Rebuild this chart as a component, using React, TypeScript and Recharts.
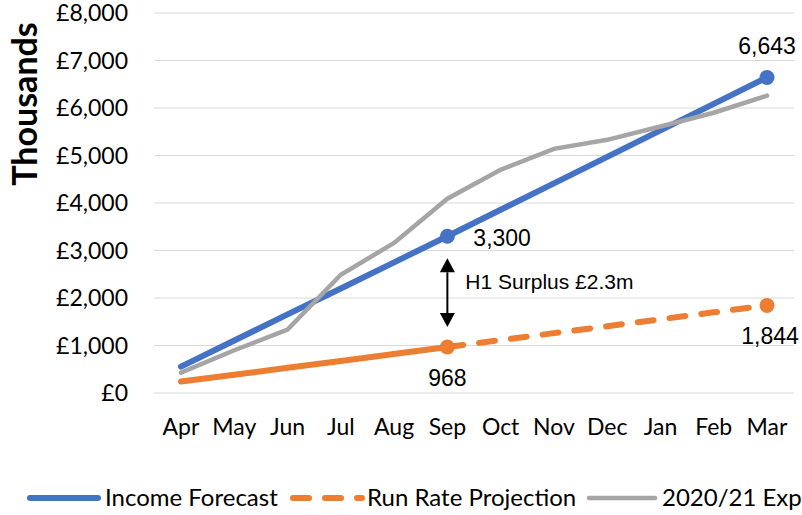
import React from "react";
import {
  LineChart,
  Line,
  XAxis,
  YAxis,
  CartesianGrid,
  LabelList,
  ReferenceLine,
} from "recharts";

const months = ["Apr", "May", "Jun", "Jul", "Aug", "Sep", "Oct", "Nov", "Dec", "Jan", "Feb", "Mar"];
const incomeForecast = [555, 1105, 1655, 2200, 2750, 3300, 3857, 4414, 4971, 5529, 6086, 6643];
const runRateActual = [240, 385, 530, 675, 820, 968, null, null, null, null, null, null];
const runRateProjection = [null, null, null, null, null, 968, 1114, 1260, 1406, 1552, 1698, 1844];
const exp2021 = [430, 900, 1334, 2490, 3160, 4090, 4700, 5140, 5330, 5610, 5900, 6260];
const yTicks = [0, 1000, 2000, 3000, 4000, 5000, 6000, 7000, 8000];

// H1 surplus annotation (arrow spans between the two Sep points)
const surplusMonth = "Sep";
const surplusArrow = [2836, 1387];
const surplusText = "H1 Surplus £2.3m";

const BLUE = "#4472C4";
const ORANGE = "#ED7D31";
const GRAY = "#A5A5A5";
const TICK_FONT = "Lato, 'Open Sans', sans-serif";
const LABEL_FONT = "'Liberation Sans', Arial, sans-serif";

const data = months.map((m, i) => ({
  month: m,
  income: incomeForecast[i],
  runActual: runRateActual[i],
  runProj: runRateProjection[i],
  exp: exp2021[i],
}));

const fmt = (v: number) => Number(v).toLocaleString("en-US");

const dotAt = (idx: number[], color: string) => (p: any) =>
  idx.includes(p.index) && p.cx != null ? (
    <circle key={p.index} cx={p.cx} cy={p.cy} r={7.5} fill={color} />
  ) : (
    <g key={p.index} />
  );

const incomeLabel = (p: any) => {
  if (p.index === 5)
    return (
      <text x={p.x + 26} y={p.y + 10} fontFamily={LABEL_FONT} fontSize={23} fill="#000">
        {fmt(p.value)}
      </text>
    );
  if (p.index === 11)
    return (
      <text x={p.x} y={p.y - 23} textAnchor="middle" fontFamily={LABEL_FONT} fontSize={23} fill="#000">
        {fmt(p.value)}
      </text>
    );
  return null;
};

const runLabel = (p: any) => {
  if (p.index === 5 || p.index === 11)
    return (
      <text
        x={p.x + (p.index === 11 ? 3 : 0)}
        y={p.y + 39}
        textAnchor="middle"
        fontFamily={LABEL_FONT}
        fontSize={23}
        fill="#000"
      >
        {fmt(p.value)}
      </text>
    );
  return null;
};

const arrowShape = (p: any) => {
  const { x1, y1, y2 } = p;
  const head = 14;
  const hw = 7.5;
  return (
    <g>
      <line x1={x1} y1={y1 + head} x2={x1} y2={y2 - head} stroke="#000" strokeWidth={2} />
      <polygon points={`${x1},${y1} ${x1 - hw},${y1 + head} ${x1 + hw},${y1 + head}`} fill="#000" />
      <polygon points={`${x1},${y2} ${x1 - hw},${y2 - head} ${x1 + hw},${y2 - head}`} fill="#000" />
      <text x={x1 + 18} y={(y1 + y2) / 2 - 4} fontFamily={LABEL_FONT} fontSize={21} fill="#000">
        {surplusText}
      </text>
    </g>
  );
};

function ChartLegend() {
  const y = 498;
  return (
    <svg width={802} height={515} style={{ position: "absolute", left: 0, top: 0, pointerEvents: "none" }}>
      <line x1={30} y1={y} x2={98} y2={y} stroke={BLUE} strokeWidth={6} strokeLinecap="round" />
      <text x={105} y={y + 8} fontFamily={TICK_FONT} fontSize={24} fill="#000">Income Forecast</text>
      <line x1={293} y1={y} x2={362} y2={y} stroke={ORANGE} strokeWidth={6} strokeLinecap="round" strokeDasharray="16 16" />
      <text x={367} y={y + 8} fontFamily={TICK_FONT} fontSize={24} fill="#000">Run Rate Projection</text>
      <line x1={589} y1={y} x2={655} y2={y} stroke={GRAY} strokeWidth={4.5} strokeLinecap="round" />
      <text x={662} y={y + 8} fontFamily={TICK_FONT} fontSize={24} fill="#000">2020/21 Exp</text>
    </svg>
  );
}

export default function App() {
  return (
    <div style={{ position: "absolute", left: 0, top: 0, width: 802, height: 515, background: "#fff", overflow: "hidden" }}>
      <LineChart width={802} height={515} data={data} margin={{ top: 13, right: 8, left: 0, bottom: 71 }}>
        <CartesianGrid vertical={false} stroke="#d9d9d9" strokeWidth={1} />
        <XAxis
          dataKey="month"
          axisLine={false}
          tickLine={false}
          height={51}
          tickMargin={20}
          padding={{ left: 27, right: 27 }}
          tick={{ fontFamily: TICK_FONT, fontSize: 23, fill: "#000" }}
          interval={0}
        />
        <YAxis
          width={154}
          domain={[0, 8000]}
          ticks={yTicks}
          axisLine={false}
          tickLine={false}
          tickMargin={20}
          tickFormatter={(v: number) => `£${fmt(v)}`}
          tick={{ fontFamily: TICK_FONT, fontSize: 23, fill: "#000" }}
          label={{
            content: () => (
              <text
                x={37}
                y={104}
                transform="rotate(-90 37 104)"
                textAnchor="middle"
                fontFamily={TICK_FONT}
                fontWeight="bold"
                fontSize={34}
                fill="#000"
              >
                Thousands
              </text>
            ),
          }}
        />
        <ReferenceLine
          segment={[
            { x: surplusMonth, y: surplusArrow[0] },
            { x: surplusMonth, y: surplusArrow[1] },
          ]}
          shape={arrowShape}
        />
        <Line
          dataKey="runActual"
          stroke={ORANGE}
          strokeWidth={6}
          strokeLinecap="round"
          dot={dotAt([5], ORANGE)}
          activeDot={false}
          isAnimationActive={false}
        />
        <Line
          dataKey="runProj"
          stroke={ORANGE}
          strokeWidth={6}
          strokeLinecap="round"
          strokeDasharray="16 16"
          dot={dotAt([11], ORANGE)}
          activeDot={false}
          isAnimationActive={false}
        >
          <LabelList dataKey="runProj" content={runLabel} />
        </Line>
        <Line
          dataKey="income"
          stroke={BLUE}
          strokeWidth={6}
          strokeLinecap="round"
          dot={dotAt([5, 11], BLUE)}
          activeDot={false}
          isAnimationActive={false}
        >
          <LabelList dataKey="income" content={incomeLabel} />
        </Line>
        <Line
          dataKey="exp"
          stroke={GRAY}
          strokeWidth={4.5}
          strokeLinecap="round"
          dot={false}
          activeDot={false}
          isAnimationActive={false}
        />
      </LineChart>
      <ChartLegend />
    </div>
  );
}
